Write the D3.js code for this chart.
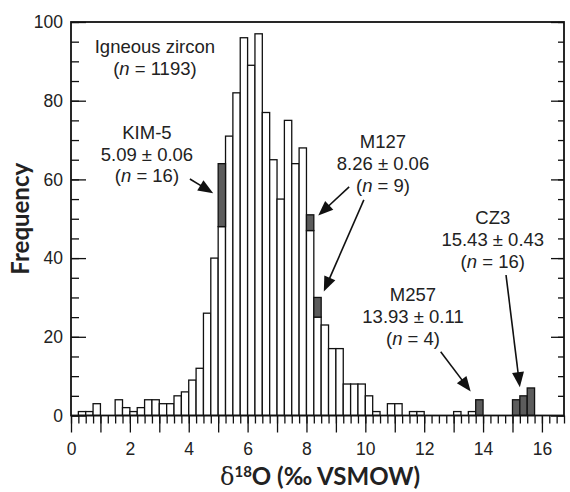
<!DOCTYPE html>
<html><head><meta charset="utf-8">
<script src="https://cdn.jsdelivr.net/npm/d3@7"></script>
<style>
body{margin:0;background:#fff}
text{font-family:"Liberation Sans",Arial,sans-serif;fill:#222}
</style>
</head><body>
<svg id="c" width="570" height="492"></svg>
<script>
// ---- data ----
const binWidth = 0.25;   // ‰ per histogram bin, first bin starts at 0
const zirconCounts = [0,1,1,3,0,0,4,2,1,2, 4,4,3,3,5,6,9,12,26,40,
  48,71,82,96,89,97,77,65,55,75, 64,68,47,25,23,17,17,8,8,8,
  5,1,0,3,3,0,1,1,0,0, 0,0,1,0,1,0,0,0,0,0, 0,0,0,0,0,0,0];
const referenceCounts = [0,0,0,0,0,0,0,0,0,0, 0,0,0,0,0,0,0,0,0,0,
  16,0,0,0,0,0,0,0,0,0, 0,0,4,5,0,0,0,0,0,0,
  0,0,0,0,0,0,0,0,0,0, 0,0,0,0,0,4,0,0,0,0, 4,5,7,0,0,0,0];
const xTickLabels = [0,2,4,6,8,10,12,14,16];
const yTickLabels = [0,20,40,60,80,100];
const labelIgneous = {x:2.85, y:93.8, lines:[["Igneous zircon"],["(","n"," = 1193)"]]};
const labelKIM = {x:2.58, y:71.9, lines:[["KIM-5"],["5.09 ± 0.06"],["(","n"," = 16)"]]};
const labelM127 = {x:10.6, y:69.6, lines:[["M127"],["8.26 ± 0.06"],["(","n"," = 9)"]]};
const labelM257 = {x:11.62, y:30.7, lines:[["M257"],["13.93 ± 0.11"],["(","n"," = 4)"]]};
const labelCZ3 = {x:14.33, y:50.2, lines:[["CZ3"],["15.43 ± 0.43"],["(","n"," = 16)"]]};
const arrows = [
  {from:[4.04,60.1], to:[4.83,56.5]},
  {from:[9.45,58.1], to:[8.40,50.8]},
  {from:[9.95,54.8], to:[8.59,31.5]},
  {from:[12.56,16.2], to:[13.58,6.1]},
  {from:[14.78,35.7], to:[15.25,7.2]}
];

// ---- chart ----
const svg = d3.select("#c");
const x = d3.scaleLinear().domain([0,16.75]).range([71,564]);
const y = d3.scaleLinear().domain([0,100]).range([415.5,22]);

const bins = zirconCounts.map((c,i)=>({i, x0:i*binWidth, x1:(i+1)*binWidth, z:c, r:referenceCounts[i]}));

// white zircon bars
svg.append("g").selectAll("rect").data(bins.filter(d=>d.z>0)).join("rect")
  .attr("x", d=>x(d.x0)).attr("width", d=>x(d.x1)-x(d.x0))
  .attr("y", d=>y(d.z)).attr("height", d=>y(0)-y(d.z))
  .attr("fill","#fff").attr("stroke","#111").attr("stroke-width",1.3);
// grey reference bars stacked on top
svg.append("g").selectAll("rect").data(bins.filter(d=>d.r>0)).join("rect")
  .attr("x", d=>x(d.x0)).attr("width", d=>x(d.x1)-x(d.x0))
  .attr("y", d=>y(d.z+d.r)).attr("height", d=>y(d.z)-y(d.z+d.r))
  .attr("fill","#5c5c5c").attr("stroke","#111").attr("stroke-width",1.3);

const styleTicks = g=>{
  g.select(".domain").remove();
  g.selectAll("line").attr("stroke","#111").attr("stroke-width",1.3);
  g.selectAll("text").filter(function(){return this.textContent==="";}).remove();
  g.selectAll("text").attr("font-size",17.5).attr("fill","#222")
     .attr("font-family","Liberation Sans, Arial, sans-serif");
};

// axes
const minorX = d3.range(0, 16.75+1e-9, binWidth);
const majorX = d3.range(0, 17, 1);
svg.append("g").attr("transform",`translate(0,${y(0)})`)
  .call(d3.axisBottom(x).tickValues(minorX).tickSize(8).tickFormat(""))
  .call(styleTicks);
svg.append("g").attr("transform",`translate(0,${y(0)})`)
  .call(d3.axisBottom(x).tickValues(majorX).tickSize(17).tickPadding(10)
     .tickFormat(d=>xTickLabels.includes(d)?String(d):""))
  .call(styleTicks);

const minorY = d3.range(0,101,5);
svg.append("g").attr("transform",`translate(${x(0)},0)`)
  .call(d3.axisLeft(y).tickValues(minorY).tickSizeInner(-8).tickSizeOuter(0).tickFormat(""))
  .call(styleTicks);
svg.append("g").attr("transform",`translate(${x(0)},0)`)
  .call(d3.axisLeft(y).tickValues(yTickLabels).tickSizeInner(-15).tickSizeOuter(0).tickPadding(8))
  .call(styleTicks);
svg.append("g").attr("transform",`translate(${x(16.75)},0)`)
  .call(d3.axisRight(y).tickValues(minorY).tickSizeInner(-6).tickSizeOuter(0).tickFormat(""))
  .call(styleTicks);
svg.append("g").attr("transform",`translate(${x(16.75)},0)`)
  .call(d3.axisRight(y).tickValues(yTickLabels).tickSizeInner(-13).tickSizeOuter(0).tickFormat(""))
  .call(styleTicks);

// frame
svg.append("rect").attr("x",x(0)).attr("y",y(100))
  .attr("width",x(16.75)-x(0)).attr("height",y(0)-y(100))
  .attr("fill","none").attr("stroke","#111").attr("stroke-width",1.8);

// axis titles
svg.append("text").attr("transform",`translate(29,${(y(0)+y(100))/2}) rotate(-90)`)
  .attr("text-anchor","middle").attr("font-size",24).attr("font-weight","bold")
  .style("font-family","Lato, 'Liberation Sans', sans-serif").attr("fill","#111")
  .text("Frequency");
const xt = svg.append("text").attr("x",320).attr("y",485)
  .attr("text-anchor","middle").attr("font-size",24).attr("font-weight","bold")
  .style("font-family","Lato, 'Liberation Sans', sans-serif").attr("fill","#111");
xt.append("tspan").attr("font-weight","normal").style("font-family","'DejaVu Serif', serif").text("δ");
xt.append("tspan").attr("font-size",15).attr("dy",-8).text("18");
xt.append("tspan").attr("dy",8).text("O (‰ VSMOW)");

// annotations
const lineGap = 21.7;
[labelIgneous,labelKIM,labelM127,labelM257,labelCZ3].forEach(a=>{
  a.lines.forEach((parts,k)=>{
    const t = svg.append("text").attr("x",x(a.x)).attr("y",y(a.y)+k*lineGap+6.5)
      .attr("text-anchor","middle").attr("font-size",18.5);
    parts.forEach(p=>{
      const s = t.append("tspan").text(p);
      if(p==="n") s.attr("font-style","italic");
    });
  });
});

// arrows
const headLen = 15, headHalf = 6;
arrows.forEach(a=>{
  const x1=x(a.from[0]), y1=y(a.from[1]), x2=x(a.to[0]), y2=y(a.to[1]);
  const ang = Math.atan2(y2-y1, x2-x1);
  const bx = x2 - headLen*Math.cos(ang), by = y2 - headLen*Math.sin(ang);
  svg.append("line").attr("x1",x1).attr("y1",y1).attr("x2",bx+2*Math.cos(ang)).attr("y2",by+2*Math.sin(ang))
    .attr("stroke","#111").attr("stroke-width",1.6);
  const px = -Math.sin(ang), py = Math.cos(ang);
  svg.append("path").attr("d",`M${x2},${y2}L${bx+headHalf*px},${by+headHalf*py}L${bx-headHalf*px},${by-headHalf*py}Z`)
    .attr("fill","#111");
});
</script>
</body></html>
